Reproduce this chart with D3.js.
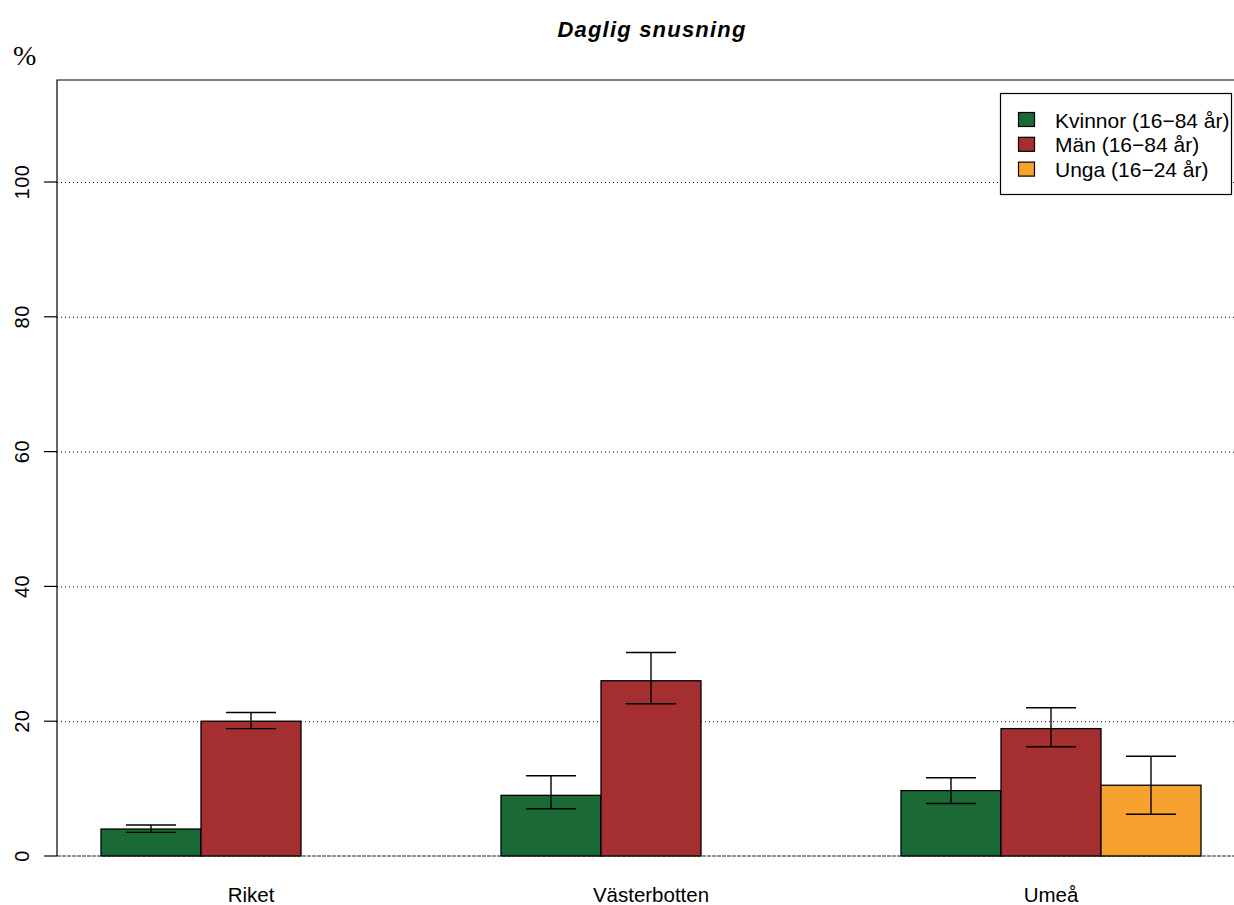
<!DOCTYPE html>
<html><head><meta charset="utf-8">
<script src="https://cdn.jsdelivr.net/npm/d3@7"></script>
<style>body{margin:0;background:#fff}svg{display:block}</style>
</head><body>
<svg id="c" width="1234" height="905"></svg>
<script>
const categories = ["Riket", "Västerbotten", "Umeå"];
const seriesNames = ["Kvinnor (16\u221284 år)", "Män (16\u221284 år)", "Unga (16\u221224 år)"];
const seriesColors = ["#1b6a35", "#a52f30", "#f7a12e"];
// values per category: [Kvinnor, Män, Unga]
const values = [[4.0, 20.0, null], [9.0, 26.0, null], [9.7, 18.9, 10.5]];
const lower  = [[3.5, 18.9, null], [7.0, 22.6, null], [7.8, 16.2, 6.2]];
const upper  = [[4.6, 21.3, null], [11.9, 30.2, null], [11.6, 22.0, 14.8]];
const yTicks = [0, 20, 40, 60, 80, 100];
const title = "Daglig snusning";
const yUnit = "%";

(function () {
const svg = d3.select("#c");
const font = "Liberation Sans, Arial, sans-serif";
const y = d3.scaleLinear().domain([0, 100]).range([856, 182]);
// bar units: width 1, gap 1 between groups of 3
const x = d3.scaleLinear().domain([0, 1]).range([1, 101]);
const groupStart = i => 1 + i * 4;

const pLeft = 57, pTop = 80, pRight = 1240;

// gridlines
svg.append("g").selectAll("line").data(yTicks.filter(d => d > 0)).join("line")
  .attr("x1", pLeft).attr("x2", pRight).attr("y1", d => y(d) + 0.5).attr("y2", d => y(d) + 0.5)
  .attr("stroke", "#000").attr("stroke-width", 1).attr("stroke-dasharray", "1,3");

// baseline
svg.append("line").attr("x1", pLeft).attr("x2", pRight).attr("y1", y(0)).attr("y2", y(0))
  .attr("stroke", "#222").attr("stroke-width", 1.2).attr("stroke-dasharray", "4,1");

// box (top + left)
svg.append("path").attr("d", `M${pLeft},${y(0)}V${pTop}H${pRight}`)
  .attr("fill", "none").attr("stroke", "#000").attr("stroke-width", 1.2);

// bars
const bars = [];
values.forEach((row, i) => row.forEach((v, j) => {
  if (v != null) bars.push({i, j, v, lo: lower[i][j], hi: upper[i][j]});
}));
svg.append("g").selectAll("rect").data(bars).join("rect")
  .attr("x", d => x(groupStart(d.i) + d.j))
  .attr("width", d => x(groupStart(d.i) + d.j + 1) - x(groupStart(d.i) + d.j))
  .attr("y", d => y(d.v)).attr("height", d => y(0) - y(d.v))
  .attr("fill", d => seriesColors[d.j]).attr("stroke", "#000").attr("stroke-width", 1.3);

// error bars
const eb = svg.append("g").attr("stroke", "#000").attr("stroke-width", 1.4);
bars.forEach(d => {
  const cx = x(groupStart(d.i) + d.j + 0.5);
  eb.append("line").attr("x1", cx).attr("x2", cx).attr("y1", y(d.lo)).attr("y2", y(d.hi));
  eb.append("line").attr("x1", cx - 25).attr("x2", cx + 25).attr("y1", y(d.lo)).attr("y2", y(d.lo));
  eb.append("line").attr("x1", cx - 25).attr("x2", cx + 25).attr("y1", y(d.hi)).attr("y2", y(d.hi));
});

// y axis ticks & labels
const ya = svg.append("g");
ya.selectAll("line").data(yTicks).join("line")
  .attr("x1", pLeft - 13).attr("x2", pLeft).attr("y1", d => y(d)).attr("y2", d => y(d))
  .attr("stroke", "#000").attr("stroke-width", 1.2);
ya.selectAll("text").data(yTicks).join("text")
  .attr("transform", d => `translate(29,${y(d)}) rotate(-90)`)
  .attr("text-anchor", "middle").attr("font-family", font).attr("font-size", 20)
  .attr("letter-spacing", 0.5)
  .text(d => d);

// category labels
svg.append("g").selectAll("text").data(categories).join("text")
  .attr("x", (d, i) => x(groupStart(i) + 1.5)).attr("y", 902)
  .attr("text-anchor", "middle").attr("font-family", font).attr("font-size", 20.5)
  .text(d => d);

// title
svg.append("text").attr("x", 652).attr("y", 37).attr("text-anchor", "middle")
  .attr("font-family", font).attr("font-size", 22).attr("font-weight", "bold")
  .attr("font-style", "italic").attr("letter-spacing", 1.2).text(title);

// % label
svg.append("text").attr("x", 13).attr("y", 65).attr("font-family", "Liberation Serif, Times New Roman, serif")
  .attr("font-size", 28).text(yUnit);

// legend
const lg = svg.append("g");
lg.append("rect").attr("x", 1000.5).attr("y", 93.5).attr("width", 231).attr("height", 101)
  .attr("fill", "#fff").attr("stroke", "#000").attr("stroke-width", 1.2);
seriesNames.forEach((n, k) => {
  const yy = 119.5 + k * 24.8;
  lg.append("rect").attr("x", 1018.5).attr("y", yy - 7).attr("width", 16).attr("height", 14)
    .attr("fill", seriesColors[k]).attr("stroke", "#000").attr("stroke-width", 1.2);
  lg.append("text").attr("x", 1055).attr("y", yy + 8).attr("font-family", font)
    .attr("font-size", 21).text(n);
});
})();
</script>
</body></html>
